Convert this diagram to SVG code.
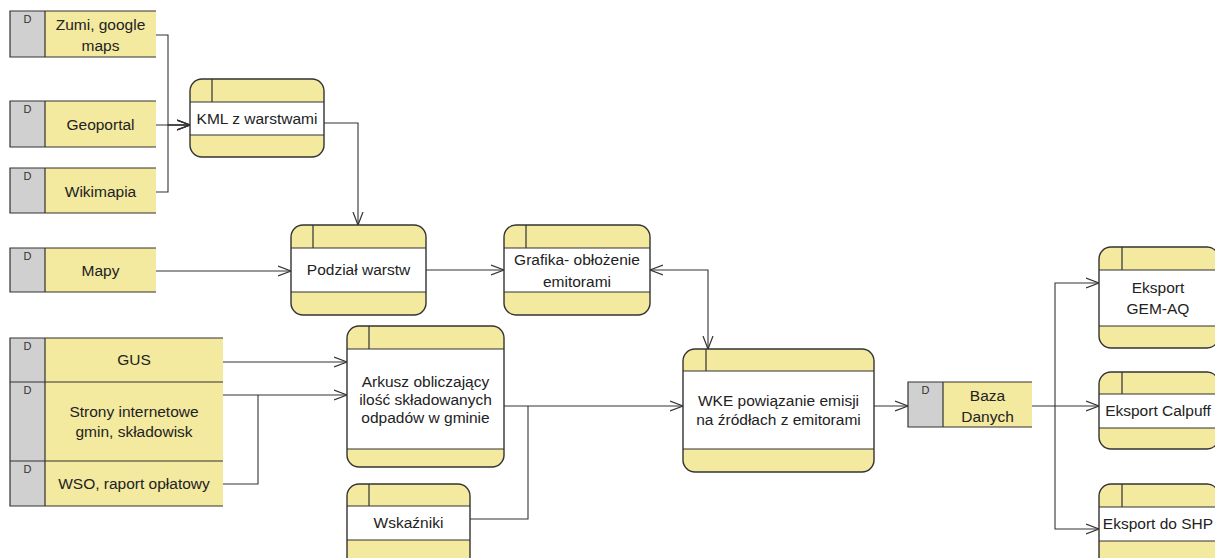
<svg xmlns="http://www.w3.org/2000/svg" width="1215" height="558" viewBox="0 0 1215 558">
  <defs>
    <marker id="open" markerUnits="userSpaceOnUse" markerWidth="16" markerHeight="12" refX="13" refY="6" orient="auto-start-reverse">
      <path d="M0,1 L13,6 L0,11" fill="none" stroke="#333" stroke-width="1.2"/>
    </marker>
    <style>
      .lbl { font-family: "Liberation Sans", Arial, sans-serif; font-size: 15.5px; fill: #222; text-anchor: middle; }
      .dl { font-family: "Liberation Sans", Arial, sans-serif; font-size: 11px; fill: #333; text-anchor: middle; }
      .yel { fill: #F3E99F; }
      .gry { fill: #D0D0D0; }
      .wht { fill: #FFFFFF; }
      .ln { fill: none; stroke: #333; stroke-width: 1.2; }
      .box { fill: none; stroke: #333; stroke-width: 1.4; }
      .con { fill: none; stroke: #333; stroke-width: 1.1; }
    </style>
  </defs>
  <rect width="1215" height="558" fill="#FFFFFF"/>

  <!-- connectors -->
  <g id="connectors">
    <path class="con" d="M156,35 H168 V125 H190" marker-end="url(#open)"/>
    <path class="con" d="M156,125 H190" marker-end="url(#open)"/>
    <path class="con" d="M156,192 H168 V125 H190" marker-end="url(#open)"/>
    <path class="con" d="M324,123 H358 V225" marker-end="url(#open)"/>
    <path class="con" d="M156,271 H291" marker-end="url(#open)"/>
    <path class="con" d="M426,270 H504" marker-end="url(#open)"/>
    <path class="con" d="M650,270 H708 V349" marker-start="url(#open)" marker-end="url(#open)"/>
    <path class="con" d="M223,362 H347" marker-end="url(#open)"/>
    <path class="con" d="M223,395 H347" marker-end="url(#open)"/>
    <path class="con" d="M223,484 H258 V395"/>
    <path class="con" d="M504,406 H683" marker-end="url(#open)"/>
    <path class="con" d="M470,519 H528 V406"/>
    <path class="con" d="M874,406 H908" marker-end="url(#open)"/>
    <path class="con" d="M1032,406 H1099" marker-end="url(#open)"/>
    <path class="con" d="M1055,406 V283 H1099" marker-end="url(#open)"/>
    <path class="con" d="M1055,406 V529 H1099" marker-end="url(#open)"/>
  </g>

  <!-- data stores -->
  <g id="store-zumi">
    <rect class="yel" x="45" y="11" width="111" height="46"/>
    <rect class="gry" x="10" y="11" width="35" height="46"/>
    <path class="ln" d="M156,11 H10 V57 H156 M45,11 V57"/>
    <text class="dl" x="27.5" y="23">D</text>
    <text class="lbl" x="100.5" y="30">Zumi, google</text>
    <text class="lbl" x="100.5" y="51">maps</text>
  </g>
  <g id="store-geoportal">
    <rect class="yel" x="45" y="101" width="111" height="46"/>
    <rect class="gry" x="10" y="101" width="35" height="46"/>
    <path class="ln" d="M156,101 H10 V147 H156 M45,101 V147"/>
    <text class="dl" x="27.5" y="113">D</text>
    <text class="lbl" x="100.5" y="130">Geoportal</text>
  </g>
  <g id="store-wikimapia">
    <rect class="yel" x="45" y="168" width="111" height="45"/>
    <rect class="gry" x="10" y="168" width="35" height="45"/>
    <path class="ln" d="M156,168 H10 V213 H156 M45,168 V213"/>
    <text class="dl" x="27.5" y="180">D</text>
    <text class="lbl" x="100.5" y="197">Wikimapia</text>
  </g>
  <g id="store-mapy">
    <rect class="yel" x="45" y="248" width="111" height="44"/>
    <rect class="gry" x="10" y="248" width="35" height="44"/>
    <path class="ln" d="M156,248 H10 V292 H156 M45,248 V292"/>
    <text class="dl" x="27.5" y="260">D</text>
    <text class="lbl" x="100.5" y="276">Mapy</text>
  </g>
  <g id="store-sources">
    <rect class="yel" x="45" y="338" width="178" height="168"/>
    <rect class="gry" x="10" y="338" width="35" height="168"/>
    <path class="ln" d="M223,338 H10 V506 H223 M45,338 V506 M10,382 H223 M10,461 H223"/>
    <text class="dl" x="27.5" y="350">D</text>
    <text class="lbl" x="134" y="365">GUS</text>
    <text class="dl" x="27.5" y="394">D</text>
    <text class="lbl" x="134" y="417">Strony internetowe</text>
    <text class="lbl" x="134" y="437">gmin, składowisk</text>
    <text class="dl" x="27.5" y="473">D</text>
    <text class="lbl" x="134" y="489">WSO, raport opłatowy</text>
  </g>
  <g id="store-baza">
    <rect class="yel" x="943" y="382" width="89" height="45"/>
    <rect class="gry" x="908" y="382" width="35" height="45"/>
    <path class="ln" d="M1032,382 H908 V427 H1032 M943,382 V427"/>
    <text class="dl" x="925.5" y="394">D</text>
    <text class="lbl" x="987.5" y="401">Baza</text>
    <text class="lbl" x="987.5" y="422">Danych</text>
  </g>

  <!-- processes -->
  <g id="proc-kml">
    <rect class="yel" x="190" y="79" width="134" height="78" rx="12"/>
    <rect class="wht" x="190" y="102" width="134" height="33"/>
    <path class="ln" d="M190,102 H324 M190,135 H324 M212,79 V102"/>
    <rect class="box" x="190" y="79" width="134" height="78" rx="12"/>
    <text class="lbl" x="257" y="124">KML z warstwami</text>
  </g>
  <g id="proc-podzial">
    <rect class="yel" x="291" y="225" width="135" height="90" rx="12"/>
    <rect class="wht" x="291" y="248" width="135" height="44"/>
    <path class="ln" d="M291,248 H426 M291,292 H426 M313,225 V248"/>
    <rect class="box" x="291" y="225" width="135" height="90" rx="12"/>
    <text class="lbl" x="358.5" y="275">Podział warstw</text>
  </g>
  <g id="proc-grafika">
    <rect class="yel" x="504" y="225" width="146" height="90" rx="12"/>
    <rect class="wht" x="504" y="248" width="146" height="44"/>
    <path class="ln" d="M504,248 H650 M504,292 H650 M526,225 V248"/>
    <rect class="box" x="504" y="225" width="146" height="90" rx="12"/>
    <text class="lbl" x="577" y="265">Grafika- obłożenie</text>
    <text class="lbl" x="577" y="287">emitorami</text>
  </g>
  <g id="proc-arkusz">
    <rect class="yel" x="347" y="326" width="157" height="141" rx="12"/>
    <rect class="wht" x="347" y="349" width="157" height="100"/>
    <path class="ln" d="M347,349 H504 M347,449 H504 M369,326 V349"/>
    <rect class="box" x="347" y="326" width="157" height="141" rx="12"/>
    <text class="lbl" x="425.5" y="387">Arkusz obliczający</text>
    <text class="lbl" x="425.5" y="405">ilość składowanych</text>
    <text class="lbl" x="425.5" y="423">odpadów w gminie</text>
  </g>
  <g id="proc-wskazniki">
    <rect class="yel" x="347" y="484" width="123" height="86" rx="12"/>
    <rect class="wht" x="347" y="506" width="123" height="34"/>
    <path class="ln" d="M347,506 H470 M347,540 H470 M369,484 V506"/>
    <rect class="box" x="347" y="484" width="123" height="86" rx="12"/>
    <text class="lbl" x="408.5" y="528">Wskaźniki</text>
  </g>
  <g id="proc-wke">
    <rect class="yel" x="683" y="349" width="191" height="123" rx="12"/>
    <rect class="wht" x="683" y="371" width="191" height="78"/>
    <path class="ln" d="M683,371 H874 M683,449 H874 M706,349 V371"/>
    <rect class="box" x="683" y="349" width="191" height="123" rx="12"/>
    <text class="lbl" x="778.5" y="406">WKE powiązanie emisji</text>
    <text class="lbl" x="778.5" y="425">na źródłach z emitorami</text>
  </g>
  <g id="proc-gemaq">
    <rect class="yel" x="1099" y="247" width="120" height="101" rx="12"/>
    <rect class="wht" x="1099" y="270" width="120" height="56"/>
    <path class="ln" d="M1099,270 H1219 M1099,326 H1219 M1122,247 V270"/>
    <rect class="box" x="1099" y="247" width="120" height="101" rx="12"/>
    <text class="lbl" x="1158" y="293">Eksport</text>
    <text class="lbl" x="1158" y="314">GEM-AQ</text>
  </g>
  <g id="proc-calpuff">
    <rect class="yel" x="1099" y="372" width="120" height="77" rx="12"/>
    <rect class="wht" x="1099" y="394" width="120" height="34"/>
    <path class="ln" d="M1099,394 H1219 M1099,428 H1219 M1122,372 V394"/>
    <rect class="box" x="1099" y="372" width="120" height="77" rx="12"/>
    <text class="lbl" x="1158" y="416">Eksport Calpuff</text>
  </g>
  <g id="proc-shp">
    <rect class="yel" x="1099" y="484" width="120" height="86" rx="12"/>
    <rect class="wht" x="1099" y="507" width="120" height="34"/>
    <path class="ln" d="M1099,507 H1219 M1099,541 H1219 M1122,484 V507"/>
    <rect class="box" x="1099" y="484" width="120" height="86" rx="12"/>
    <text class="lbl" x="1158" y="529">Eksport do SHP</text>
  </g>
</svg>
